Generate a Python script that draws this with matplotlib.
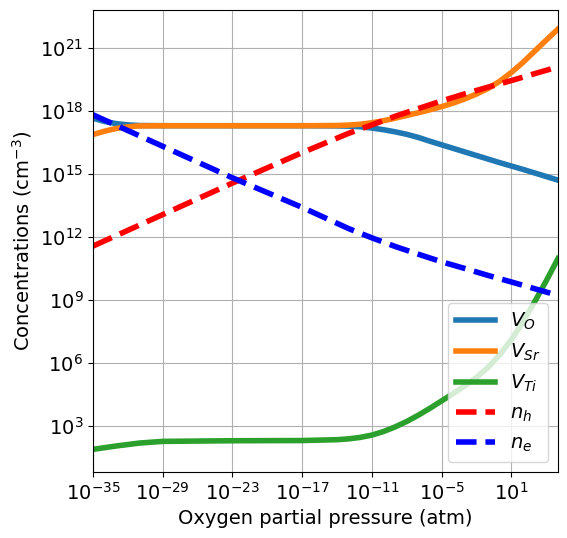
import numpy as np
import matplotlib
matplotlib.use('Agg')
import matplotlib.pyplot as plt

# log10 of oxygen partial pressure (atm)
log_p = [-35, -34, -33, -32, -31, -29, -23, -17, -14, -13, -12, -11, -10, -9,
         -8, -7, -6, -5, -4, -3, -2, -1, 0, 1, 2, 3, 4, 5]

# log10 of defect concentrations (cm^-3)
log_VO = [17.64, 17.48, 17.38, 17.32, 17.29, 17.28, 17.28, 17.28, 17.27, 17.26,
          17.23, 17.17, 17.09, 16.99, 16.87, 16.72, 16.54, 16.37, 16.2, 16.03,
          15.86, 15.69, 15.52, 15.36, 15.2, 15.03, 14.86, 14.69]
log_VSr = [16.86, 17.02, 17.15, 17.23, 17.27, 17.28, 17.28, 17.28, 17.29, 17.31,
           17.35, 17.42, 17.52, 17.64, 17.77, 17.9, 18.04, 18.19, 18.36, 18.56,
           18.79, 19.06, 19.4, 19.82, 20.3, 20.83, 21.36, 21.88]
log_VTi = [1.87, 1.95, 2.03, 2.1, 2.17, 2.25, 2.28, 2.29, 2.33, 2.37,
           2.44, 2.55, 2.72, 2.94, 3.2, 3.5, 3.83, 4.18, 4.53, 4.9,
           5.3, 5.78, 6.38, 7.1, 7.95, 8.9, 9.9, 10.95]

# carriers
log_p_c = [-35, -29, -23, -17, -13, -11, -9, -7, -5, -3, -1, 1, 3, 5]
log_nh = [11.55, 13.05, 14.55, 16.0, 16.92, 17.32, 17.73, 18.1, 18.46, 18.8,
          19.12, 19.43, 19.76, 20.08]
log_ne = [17.8, 16.3, 14.8, 13.39, 12.38, 11.94, 11.53, 11.16, 10.8, 10.48,
          10.15, 9.84, 9.52, 9.2]

p = 10.0 ** np.array(log_p)
pc = 10.0 ** np.array(log_p_c)

fig, ax = plt.subplots(figsize=(5.67, 5.38), dpi=100)
fig.subplots_adjust(left=0.164, right=0.984, top=0.981, bottom=0.123)

ax.plot(p, 10.0 ** np.array(log_VO), color='tab:blue', lw=4, label='$V_O$')
ax.plot(p, 10.0 ** np.array(log_VSr), color='tab:orange', lw=4, label='$V_{Sr}$')
ax.plot(p, 10.0 ** np.array(log_VTi), color='tab:green', lw=4, label='$V_{Ti}$')
ax.plot(pc, 10.0 ** np.array(log_nh), 'r--', lw=4, label='$n_h$')
ax.plot(pc, 10.0 ** np.array(log_ne), 'b--', lw=4, label='$n_e$')

ax.set_xscale('log')
ax.set_yscale('log')
ax.set_xlim(1e-35, 1e5)
ax.set_ylim(10 ** 0.8, 10 ** 22.78)
ax.set_xticks([10.0 ** k for k in range(-35, 2, 6)])
ax.set_yticks([10.0 ** k for k in range(3, 22, 3)])
ax.minorticks_off()
ax.tick_params(labelsize=14)
ax.grid(True)

ax.set_xlabel('Oxygen partial pressure (atm)', fontsize=14)
ax.set_ylabel('Concentrations (cm$^{-3}$)', fontsize=14)
ax.legend(loc='lower right', fontsize=14)

fig.savefig('out.png', dpi=100)
